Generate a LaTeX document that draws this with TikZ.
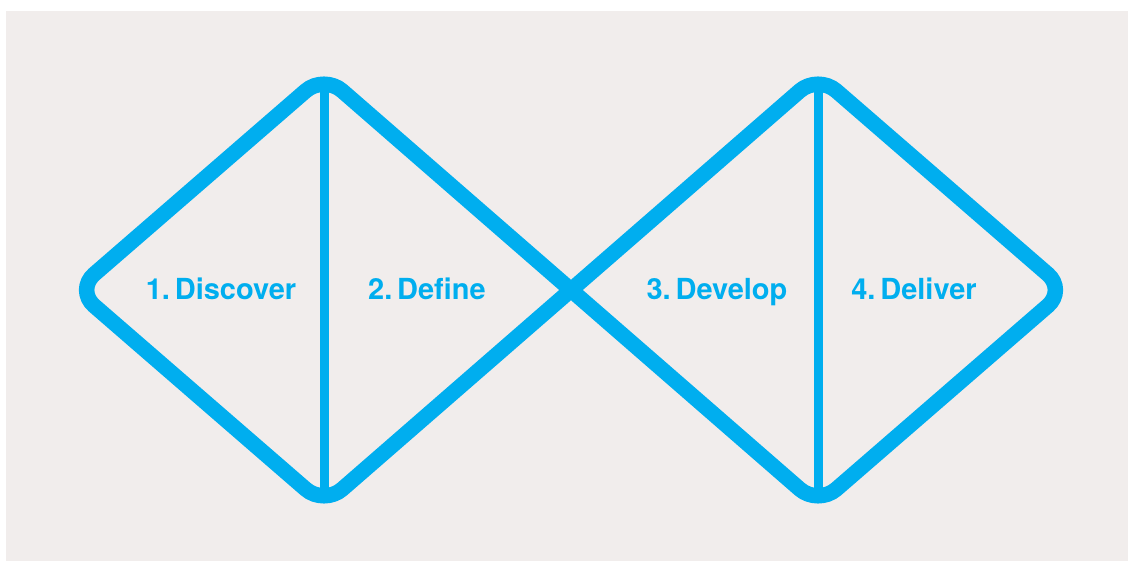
\documentclass[tikz,border=0pt]{standalone}
\usepackage{fontspec}
\setmainfont{TeX Gyre Heros}
\definecolor{bgcol}{HTML}{F1EDEC}
\definecolor{dblue}{HTML}{00AEEF}
\tikzset{
  diamondline/.style={draw=dblue, line width=15.5pt, rounded corners=24pt, line join=round},
  divider/.style={draw=dblue, line width=9pt},
  phase/.style={text=dblue, font=\bfseries\fontsize{29}{32}\selectfont, anchor=base, inner sep=0pt}
}
\begin{document}
\begin{tikzpicture}[x=1pt,y=-1pt]
\useasboundingbox (0,0) rectangle (1128,561);
\fill[white] (0,0) rectangle (1128,561);
\fill[bgcol] (6,11) rectangle (1128,561);
\coordinate (L) at (76,290);
\coordinate (T1) at (324,75);
\coordinate (B1) at (324,505);
\coordinate (X) at (571,290);
\coordinate (T2) at (818,75);
\coordinate (B2) at (818,505);
\coordinate (R) at (1066,290);
\coordinate (S) at (447.5,182.5);
\path[diamondline] (S) -- (T1) -- (L) -- (B1) -- (X) -- (T2) -- (R) -- (B2) -- (X) -- cycle;
\draw[divider] (324,92) -- (324,490);
\draw[divider] (818,92) -- (818,490);
\node[phase] (discover) at (221,299.5) {1.\,Discover};
\node[phase] (define) at (427,299.5) {2.\,Define};
\node[phase] (develop) at (717,299.5) {3.\,Develop};
\node[phase] (deliver) at (914,299.5) {4.\,Deliver};
\end{tikzpicture}
\end{document}
